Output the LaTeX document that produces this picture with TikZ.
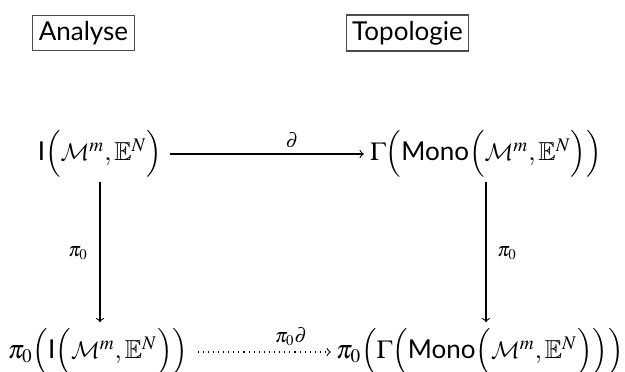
\documentclass[tikz,border=0pt]{standalone}
\usepackage{mathptmx}
\usepackage{amssymb}
\usepackage[no-math]{fontspec}
\setmainfont{Lato}
\DeclareMathAlphabet{\mathcalcm}{OMS}{cmsy}{m}{n}
\newcommand{\Mm}{\mathcalcm{M}^m}
\newcommand{\EN}{\mathbb{E}^N}
\newcommand{\sff}[1]{\mbox{#1}}
\begin{document}
\begin{tikzpicture}[x=0.5pt,y=-0.5pt,
  titlebox/.style={draw=black!70,line width=0.6pt,inner sep=3pt,font=\fontsize{13}{15}\selectfont},
  obj/.style={inner sep=0pt,font=\fontsize{13}{15}\selectfont},
  arr/.style={->,line width=0.55pt},
  lab/.style={font=\fontsize{10}{12}\selectfont,inner sep=2pt}]
\useasboundingbox (0,0) rectangle (625,371);
\node[titlebox] (an) at (83.5,33) {Analyse};
\node[titlebox] (to) at (407.5,33) {Topologie};
\node[obj] (tl) at (100,154) {$\sff{I}\Bigl(\Mm,\EN\Bigr)$};
\node[obj] (tr) at (486,154) {$\Gamma\Bigl(\sff{Mono}\Bigl(\Mm,\EN\Bigr)\Bigr)$};
\node[obj] (bl) at (98,352) {$\pi_0\Bigl(\sff{I}\Bigl(\Mm,\EN\Bigr)\Bigr)$};
\node[obj] (br) at (480,352) {$\pi_0\Bigl(\Gamma\Bigl(\sff{Mono}\Bigl(\Mm,\EN\Bigr)\Bigr)\Bigr)$};
\draw[arr,shorten <=3.5pt,shorten >=3pt] (tl.east) -- (tr.west);
\draw[arr,shorten <=14pt,shorten >=3pt] (tl.center) -- (tl.center |- bl.north);
\draw[arr,shorten <=14pt,shorten >=3pt] (tr.center) -- (tr.center |- br.north);
\draw[arr,dotted,shorten <=4.5pt,shorten >=2.5pt] (bl.east) -- (br.west);
\node[lab] at (292,140) {$\partial$};
\node[lab] at (291,337) {$\pi_0\partial$};
\node[lab] at (78,253) {$\pi_0$};
\node[lab] at (507,253) {$\pi_0$};
\end{tikzpicture}
\end{document}
